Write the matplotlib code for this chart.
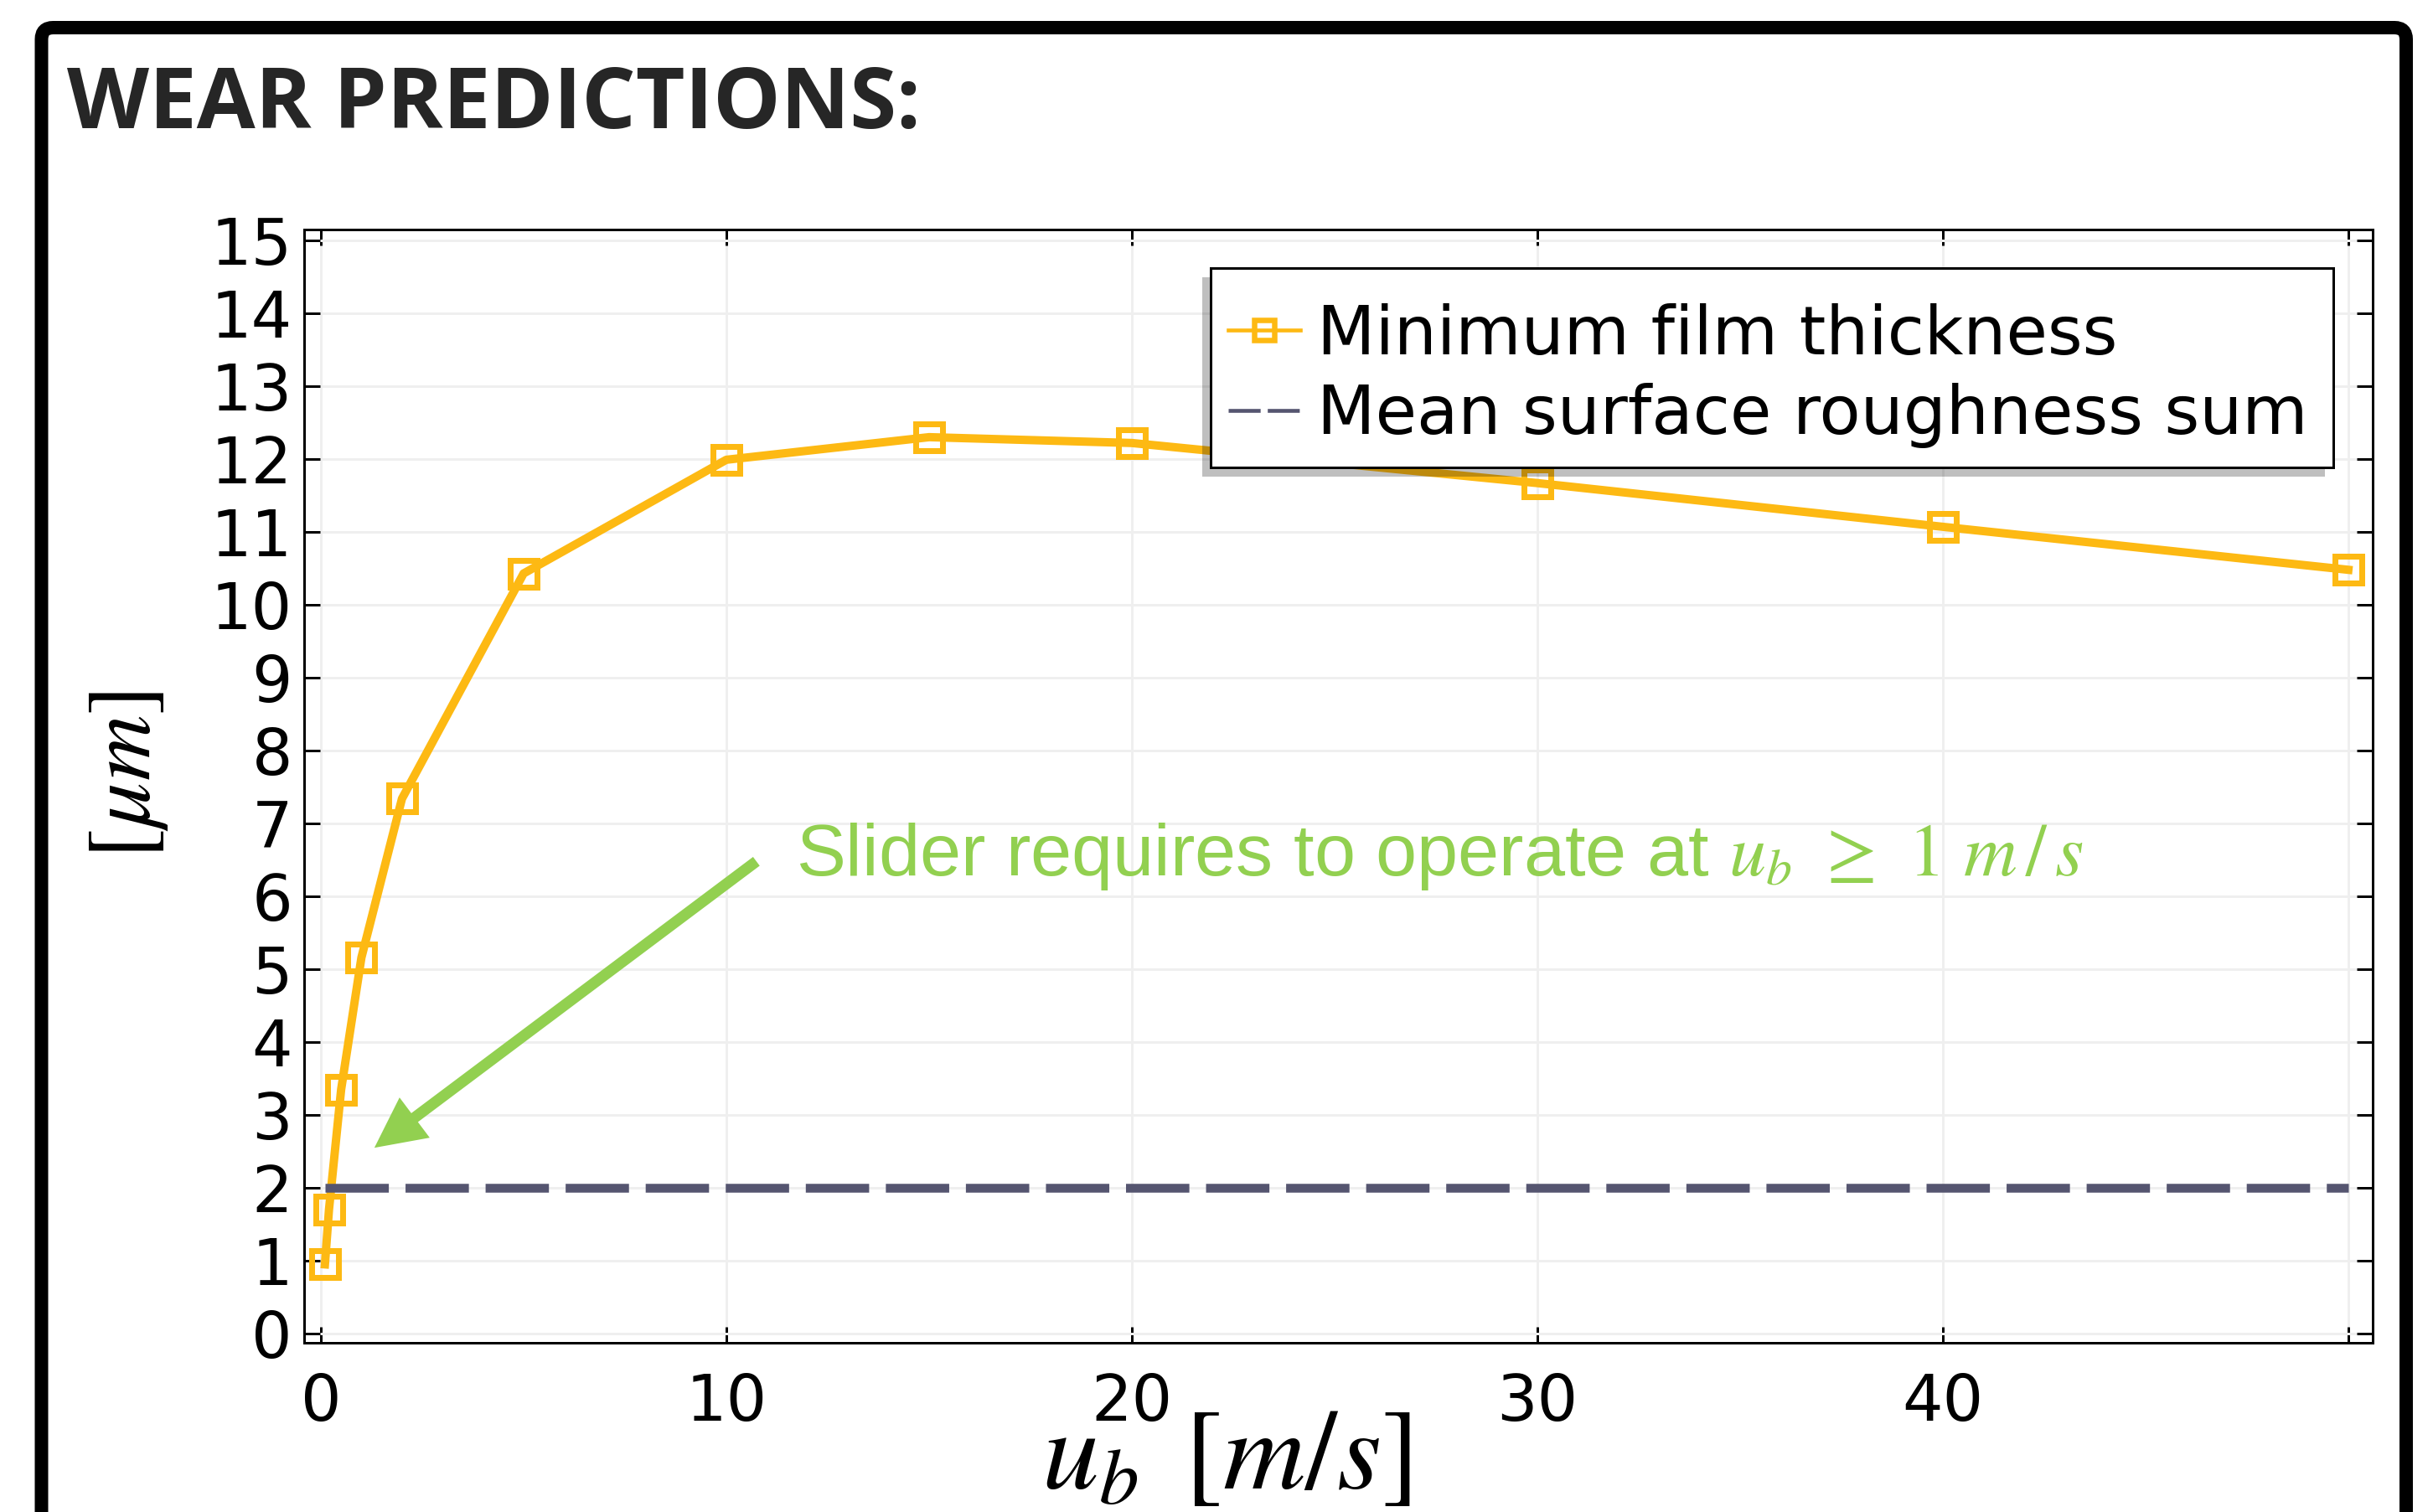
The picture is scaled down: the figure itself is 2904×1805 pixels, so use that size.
import matplotlib
matplotlib.use('Agg')
import matplotlib.pyplot as plt
from matplotlib.patches import FancyBboxPatch, Rectangle, FancyArrowPatch
from matplotlib.lines import Line2D
from matplotlib.transforms import IdentityTransform

# ---------------- data ----------------
speed = [0.1, 0.2, 0.5, 1, 2, 5, 10, 15, 20, 30, 40, 50]
film_thickness = [0.95, 1.70, 3.35, 5.16, 7.34, 10.43, 11.99, 12.30, 12.22, 11.67, 11.07, 10.48]
rough_x = [0.1, 50]
rough_y = [2.0, 2.0]
xticks = [0, 10, 20, 30, 40, 50]
xticklabels = ['0', '10', '20', '30', '40', '']
yticks = list(range(0, 16))
series_labels = ['Minimum film thickness', 'Mean surface roughness sum']
title = 'WEAR PREDICTIONS:'
note = r'Slider requires to operate at $u_b\,\:\geq\:\,1\ m\,/\,s$'
arrow_tail = (10.74, 6.48)
arrow_tip = (1.32, 2.55)

# ---------------- style ----------------
W, H, DPI = 2904, 1805, 100
PX = 72.0 / DPI
ORANGE = '#FDB913'
SLATE = '#555570'
GREEN = '#92D050'
plt.rcParams['mathtext.fontset'] = 'stix'
plt.rcParams['font.family'] = ['DejaVu Sans']

fig = plt.figure(figsize=(W / DPI, H / DPI), dpi=DPI)
fig.patch.set_facecolor('white')

ax = fig.add_axes([363 / W, 1 - 1603 / H, (2832 - 363) / W, (1603 - 274) / H])
ax.set_xlim(-0.413, 50.6)
ax.set_ylim(-0.126, 15.149)

ax.plot(speed, film_thickness, color=ORANGE, lw=10 * PX, marker='s', ms=32 * PX,
        mew=7 * PX, mfc='none', mec=ORANGE, zorder=3)
dl, = ax.plot(rough_x, rough_y, color=SLATE, lw=10.5 * PX, zorder=3.5,
              solid_capstyle='butt', dash_capstyle='butt')
dl.set_dashes([7.2, 1.9])

ax.set_xticks(xticks)
ax.set_xticklabels(xticklabels)
ax.set_yticks(yticks)
ax.tick_params(direction='in', top=True, right=True, length=19 * PX, width=3 * PX,
               labelsize=55, colors='black')
ax.tick_params(axis='y', pad=10)
ax.tick_params(axis='x', pad=25)
for s in ax.spines.values():
    s.set_linewidth(3 * PX)
    s.set_color('black')
ax.grid(True, color='#efefef', lw=3 * PX)
ax.set_axisbelow(True)

# arrow annotation
arr = FancyArrowPatch(posA=arrow_tail, posB=arrow_tip,
                      arrowstyle='simple,head_length=1,head_width=1,tail_width=0.22',
                      mutation_scale=60 * PX, color=GREEN, lw=0,
                      shrinkA=0, shrinkB=0, zorder=4)
ax.add_patch(arr)

# legend (frame drawn separately with a down-left shadow)
h1 = Line2D([], [], color=ORANGE, lw=4.6 * PX, marker='s', ms=23.5 * PX,
            mew=6.5 * PX, mfc='none', mec=ORANGE)
h2 = Line2D([], [], color=SLATE, lw=4.6 * PX, dashes=(8.3, 1.85), dash_capstyle='butt')
leg = ax.legend([h1, h2], series_labels, loc='upper right',
                bbox_to_anchor=(2785 / W, 1 - 331 / H), bbox_transform=fig.transFigure,
                borderaxespad=0, fontsize=58, handlelength=1.07, handletextpad=0.24,
                borderpad=0.38, labelspacing=0.22, frameon=False, numpoints=1)
leg.set_zorder(6)
box_x0, box_top, box_x1, box_bottom = 1445, 320, 2785, 558
shadow = Rectangle((box_x0 - 10, H - box_bottom - 11), box_x1 - box_x0, box_bottom - box_top,
                   transform=IdentityTransform(), facecolor=(0, 0, 0, 0.25),
                   edgecolor='none', zorder=5.4, clip_on=False)
ax.add_artist(shadow)
legframe = Rectangle((box_x0, H - box_bottom), box_x1 - box_x0, box_bottom - box_top,
                     transform=IdentityTransform(), facecolor='white',
                     edgecolor='black', lw=3 * PX, zorder=5.5, clip_on=False)
ax.add_artist(legframe)

# texts
fig.text(80 / W, 1 - 153 / H, title, fontfamily='Open Sans', fontweight='bold',
         fontsize=73, color='#262626', ha='left', va='baseline')
fig.text(1463 / W, 28 / H, r'$u_b\ \,[m/s]$', fontsize=98, ha='center', va='baseline',
         color='black')
fig.text(150 / W, 1 - 925 / H, r'$[\mu m]$', fontsize=78, rotation=90,
         ha='center', va='center', color='black')
fig.text(950 / W, 1 - 1045 / H, note, fontfamily='Liberation Sans', fontsize=63.5,
         color=GREEN, ha='left', va='baseline')

# outer frame
frame = FancyBboxPatch((49.5, -100), 2872 - 49.5, (H - 33) + 100,
                       boxstyle='round,pad=0,rounding_size=14',
                       transform=IdentityTransform(), fill=False,
                       lw=16 * PX, edgecolor='black')
fig.add_artist(frame)

fig.savefig('out.png', dpi=DPI, facecolor='white')
